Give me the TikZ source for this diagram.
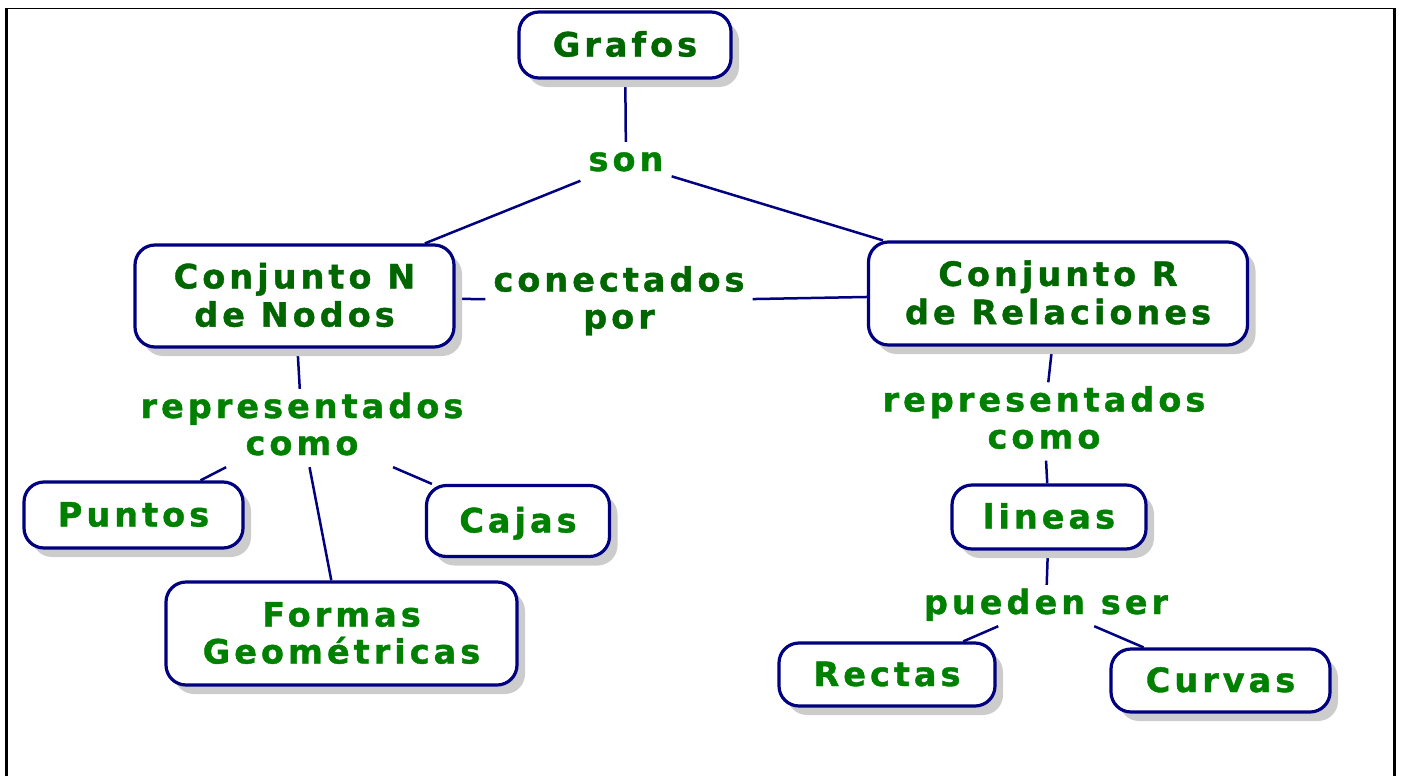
\documentclass[tikz,border=0pt]{standalone}
\usepackage{fontspec}
\newfontfamily\cmfont[LetterSpace=12,FakeBold=1.2]{DejaVu Sans}
\usetikzlibrary{shadows,backgrounds}
\definecolor{navyline}{RGB}{0,0,128}
\definecolor{dkgreen}{RGB}{0,102,0}
\definecolor{ltgreen}{RGB}{0,128,0}
\newcommand\lst{\rule[-10pt]{0pt}{37pt}}
\newcommand\cst{\rule[-7pt]{0pt}{37pt}}
\begin{document}
\begin{tikzpicture}[x=1pt,y=-1pt,
  cmtext/.style={font=\cmfont\bfseries\fontsize{33.5}{37}\selectfont, align=center},
  concept/.style={cmtext, draw=navyline, line width=3.2pt, fill=white,
    rounded corners=20pt, inner sep=0pt,
    drop shadow={shadow xshift=8pt, shadow yshift=-9pt, fill=black!20, opacity=1}},
  linkw/.style={cmtext, inner xsep=8pt, inner ysep=2pt},
  conn/.style={draw=navyline, line width=2.5pt}]
\useasboundingbox (0,0) rectangle (1402,776);

% concepts
\node[concept, text=dkgreen, minimum width=212pt, minimum height=66pt] (grafos) at (625,45) {\cst Grafos};
\node[concept, text=dkgreen, minimum width=319pt, minimum height=102pt] (conjN) at (294.5,296) {\cst Conjunto N\\\cst de Nodos};
\node[concept, text=dkgreen, minimum width=379pt, minimum height=103pt] (conjR) at (1058,293.5) {\cst Conjunto R\\\cst de Relaciones};
\node[concept, text=ltgreen, minimum width=219pt, minimum height=66pt] (puntos) at (133.5,515) {\cst Puntos};
\node[concept, text=ltgreen, minimum width=183pt, minimum height=71pt] (cajas) at (518,521) {\cst Cajas};
\node[concept, text=ltgreen, minimum width=351pt, minimum height=103pt] (formas) at (341.5,633.5) {\cst Formas\\\cst Geométricas};
\node[concept, text=ltgreen, minimum width=194pt, minimum height=64pt] (lineas) at (1049,517) {\cst lineas};
\node[concept, text=ltgreen, minimum width=216pt, minimum height=63pt] (rectas) at (887,674.5) {\cst Rectas};
\node[concept, text=ltgreen, minimum width=219pt, minimum height=63pt] (curvas) at (1220.5,680.5) {\cst Curvas};

% linking phrases
\node[linkw, text=ltgreen] (son) at (626,162.5) {\lst son};
\node[linkw, text=dkgreen] (conect) at (619,301.5) {\lst conectados\\\lst por};
\node[linkw, text=ltgreen] (reprL) at (302,428) {\lst representados\\\lst como};
\node[linkw, text=ltgreen] (reprR) at (1044,421.5) {\lst representados\\\lst como};
\node[linkw, text=ltgreen] (pueden) at (1046,605.5) {\lst pueden ser};

% connectors
\begin{pgfonlayer}{background}
\draw[conn] (grafos) -- (son);
\draw[conn] (son) -- (conjN);
\draw[conn] (son) -- (conjR);
\draw[conn] (conjN) -- (conect);
\draw[conn] (conect) -- (conjR);
\draw[conn] (conjN) -- (reprL);
\draw[conn] (reprL) -- (puntos);
\draw[conn] (reprL) -- (formas);
\draw[conn] (reprL) -- (cajas);
\draw[conn] (conjR) -- (reprR);
\draw[conn] (reprR) -- (lineas);
\draw[conn] (lineas) -- (pueden);
\draw[conn] (pueden) -- (rectas);
\draw[conn] (pueden) -- (curvas);
\end{pgfonlayer}

% frame
\coordinate (fbl) at (6,776);
\coordinate (ftl) at (6,8.5);
\coordinate (ftr) at (1394,8.5);
\coordinate (fbr) at (1394,776);
\draw[line width=3pt] (fbl) -- (ftl);
\draw[line width=3pt] (ftr) -- (fbr);
\draw[line width=1.8pt] (ftl) -- (ftr);
\end{tikzpicture}
\end{document}
